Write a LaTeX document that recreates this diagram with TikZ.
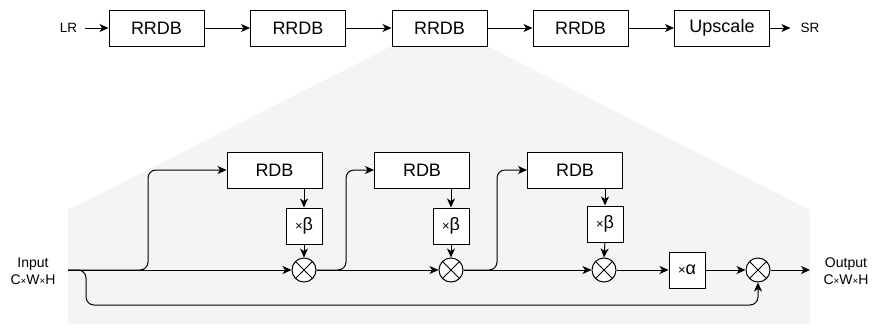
\documentclass[tikz,border=0pt]{standalone}
\usepackage{fontspec}
\setmainfont{Liberation Sans}
\usetikzlibrary{arrows.meta}
\begin{document}
\begin{tikzpicture}[x=1pt,y=-1pt,
  box/.style={draw, fill=white, line width=1pt, inner sep=0pt, minimum width=95pt, minimum height=36pt, font=\fontsize{18}{20}\selectfont},
  sbox/.style={draw, fill=white, line width=1pt, inner sep=0pt, minimum width=36pt, minimum height=36pt, font=\fontsize{18}{20}\selectfont},
  mul/.style={draw, fill=white, circle, line width=1pt, inner sep=0pt, minimum size=24pt},
  lbl/.style={inner sep=0pt, align=center, font=\fontsize{14}{17}\selectfont},
  tlbl/.style={inner sep=0pt, font=\fontsize{13.5}{16}\selectfont},
  arr/.style={-{Stealth[length=9pt,width=8pt,inset=2.5pt]}, line width=1pt},
  ln/.style={line width=1pt}]
\useasboundingbox (0,0) rectangle (872,324);
% gray zoom area
\fill[black!4.5] (392,46) -- (487,46) -- (810,210) -- (810,324) -- (68,324) -- (68,210) -- cycle;
% top row
\node[tlbl] (lr) at (68.5,28) {LR};
\node[box] (t1) at (156.5,28) {RRDB};
\node[box] (t2) at (298,28) {RRDB};
\node[box] (t3) at (439.5,28) {RRDB};
\node[box] (t4) at (580.5,28) {RRDB};
\node[box] (t5) at (722,28) {Upscale};
\node[tlbl] (sr) at (810,28) {SR};
\draw[arr] ([xshift=8pt]lr.east) -- (t1.west);
\draw[arr] (t1) -- (t2);
\draw[arr] (t2) -- (t3);
\draw[arr] (t3) -- (t4);
\draw[arr] (t4) -- (t5);
\draw[arr] (t5.east) -- ([xshift=-10pt]sr.west);
% bottom
\node[lbl] (inp) at (33,271) {Input\\C\scalebox{0.7}{×}W\scalebox{0.7}{×}H};
\node[lbl] (outp) at (846,271) {Output\\C\scalebox{0.7}{×}W\scalebox{0.7}{×}H};
\coordinate (in) at (68,270);
\coordinate (out) at (810,270);
\node[box] (r1) at (274.5,170) {RDB};
\node[box] (r2) at (422,170) {RDB};
\node[box] (r3) at (575,170) {RDB};
\node[sbox] (b1) at (304,226) {{\fontsize{13}{14}\selectfont ×}β};
\node[sbox] (b2) at (451,226) {{\fontsize{13}{14}\selectfont ×}β};
\node[sbox] (b3) at (605,224) {{\fontsize{13}{14}\selectfont ×}β};
\node[mul] (c1) at (304,270) {};
\node[mul] (c2) at (451,270) {};
\node[mul] (c3) at (604,270) {};
\node[mul] (c4) at (758,270) {};
\node[sbox] (al) at (687,270) {{\fontsize{13}{14}\selectfont ×}α};
\foreach \c in {c1,c2,c3,c4}{
  \draw[ln] (\c.45) -- (\c.225) (\c.135) -- (\c.315);
}
\draw[arr] (in) -- (c1.west);
\draw[arr, rounded corners=8pt] (in) -- (148,270) |- (r1.west);
\draw[arr] (r1.south -| b1) -- (b1.north);
\draw[arr] (b1) -- (c1);
\draw[arr] (c1) -- (c2);
\draw[arr, rounded corners=8pt] (c1.east) -- (346,270) |- (r2.west);
\draw[arr] (r2.south -| b2) -- (b2.north);
\draw[arr] (b2) -- (c2);
\draw[arr] (c2) -- (c3);
\draw[arr, rounded corners=8pt] (c2.east) -- (497,270) |- (r3.west);
\draw[arr] (r3.south -| b3) -- (b3.north);
\draw[arr] (b3.south) -- (c3.north);
\draw[arr] (c3) -- (al);
\draw[arr] (al) -- (c4);
\draw[arr] (c4) -- (out);
\draw[arr, rounded corners=8pt] (in) -- (86,270) |- (758,305) -- (c4.south);
\end{tikzpicture}
\end{document}
